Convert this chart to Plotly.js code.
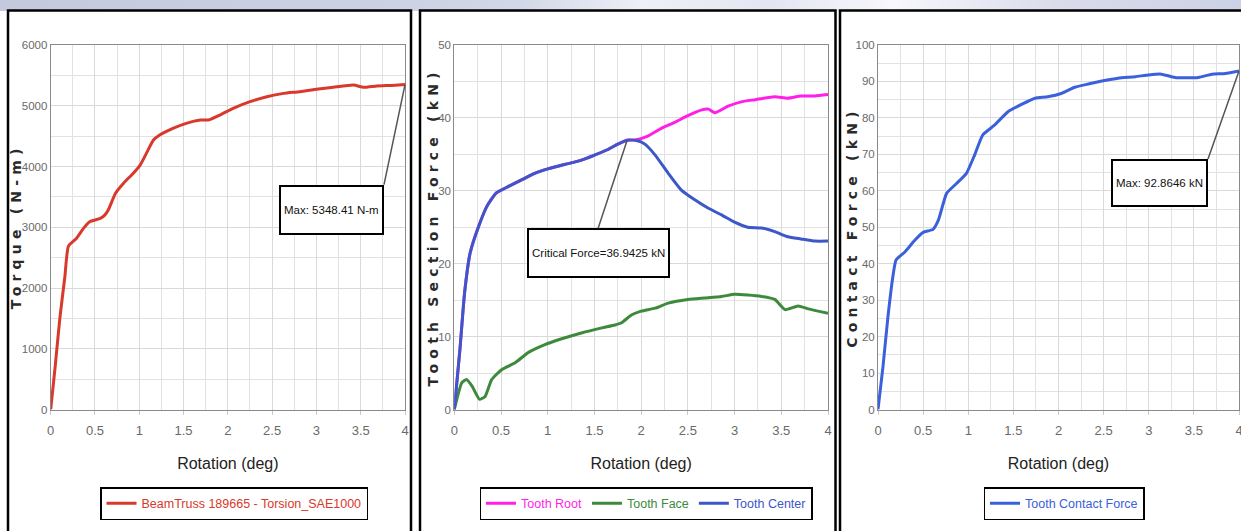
<!DOCTYPE html>
<html><head><meta charset="utf-8">
<script src="https://cdn.plot.ly/plotly-3.0.1.min.js"></script>
<style>
html,body{margin:0;padding:0;background:#fff;}
#wrap{position:relative;width:1241px;height:531px;overflow:hidden;background:#fff;}
#strip{position:absolute;left:0;top:0;width:1241px;height:11px;background:linear-gradient(90deg,#c4c9de 0%,#cbd0e3 30%,#d3d8e8 42%,#eef0f7 52%,#e3e5f1 62%,#f7f7fc 72%,#dadcec 85%,#cdd1e5 100%);}
#chart{position:absolute;left:0;top:0;}
g.annotation[data-index="3"] text,
g.annotation[data-index="4"] text,
g.annotation[data-index="5"] text{letter-spacing:5.2px;}
</style></head>
<body>
<div id="wrap"><div id="strip"></div><div id="chart"></div></div>
<script>
// ---------- data ----------
const rotTorque = [0, 0.05, 0.105, 0.16, 0.2, 0.29, 0.37, 0.44, 0.56, 0.61, 0.65, 0.73, 0.82, 0.93, 1.01, 1.08, 1.16, 1.23, 1.38, 1.53, 1.69, 1.78, 1.91, 2.06, 2.25, 2.44, 2.63, 2.81, 3.0, 3.19, 3.42, 3.53, 3.68, 3.85, 4.0];
const torque    = [0, 700, 1526, 2185, 2690, 2816, 2981, 3090, 3145, 3200, 3283, 3557, 3722, 3886, 4024, 4216, 4435, 4518, 4627, 4710, 4765, 4765, 4847, 4957, 5067, 5149, 5204, 5231, 5270, 5303, 5341, 5303, 5325, 5335, 5348.41];

const rotCenter   = [0, 0.06, 0.11, 0.17, 0.26, 0.35, 0.45, 0.58, 0.72, 0.86, 1.0, 1.18, 1.36, 1.5, 1.65, 1.75, 1.85, 1.95, 2.04, 2.15, 2.29, 2.43, 2.57, 2.72, 2.86, 3.0, 3.14, 3.29, 3.43, 3.57, 3.71, 3.86, 4.0];
const toothCenter = [0, 8.2, 16, 21.5, 25.1, 27.9, 29.7, 30.6, 31.5, 32.4, 33.0, 33.6, 34.2, 34.9, 35.7, 36.4, 36.94, 36.9, 36.4, 34.9, 32.4, 30.1, 28.8, 27.6, 26.7, 25.7, 25.0, 24.9, 24.4, 23.7, 23.4, 23.1, 23.1];

const rotRoot   = [0, 0.06, 0.11, 0.17, 0.26, 0.35, 0.45, 0.58, 0.72, 0.86, 1.0, 1.18, 1.36, 1.5, 1.65, 1.75, 1.85, 1.95, 2.07, 2.22, 2.36, 2.5, 2.65, 2.72, 2.79, 2.93, 3.07, 3.22, 3.43, 3.57, 3.71, 3.86, 4.0];
const toothRoot = [0, 8.2, 16, 21.5, 25.1, 27.9, 29.7, 30.6, 31.5, 32.4, 33.0, 33.6, 34.2, 34.9, 35.7, 36.4, 36.94, 37.0, 37.5, 38.6, 39.4, 40.3, 41.1, 41.2, 40.7, 41.6, 42.2, 42.5, 42.9, 42.7, 43.0, 43.0, 43.2];

const rotFace   = [0, 0.08, 0.13, 0.19, 0.27, 0.33, 0.4, 0.51, 0.65, 0.79, 0.97, 1.15, 1.36, 1.58, 1.72, 1.79, 1.9, 2.0, 2.15, 2.29, 2.5, 2.68, 2.86, 3.0, 3.14, 3.29, 3.43, 3.54, 3.68, 3.79, 4.0];
const toothFace = [0, 3.65, 4.1, 3.2, 1.4, 1.8, 4.1, 5.5, 6.4, 7.8, 8.9, 9.7, 10.5, 11.2, 11.6, 11.9, 13.0, 13.5, 13.9, 14.6, 15.1, 15.3, 15.5, 15.8, 15.7, 15.5, 15.1, 13.7, 14.2, 13.8, 13.2];

const rotContact = [0, 0.055, 0.11, 0.17, 0.2, 0.3, 0.41, 0.5, 0.61, 0.67, 0.76, 0.87, 0.98, 1.07, 1.16, 1.29, 1.44, 1.59, 1.74, 1.88, 2.03, 2.18, 2.33, 2.48, 2.66, 2.85, 3.0, 3.14, 3.29, 3.55, 3.7, 3.85, 4.0];
const contact    = [0, 11.7, 25.4, 37.3, 41, 43.3, 46.5, 48.6, 49.4, 52, 59.3, 62, 64.8, 69.8, 75.3, 78, 81.7, 83.7, 85.4, 85.8, 86.7, 88.4, 89.3, 90.1, 90.9, 91.3, 91.8, 92.0, 91.1, 91.1, 92.0, 92.2, 92.8646];

const xTitle = 'Rotation (deg)';
const yTitles = ['Torque (N-m)', 'Tooth Section Force (kN)', 'Contact Force (kN)'];
const seriesNames = ['BeamTruss 189665 - Torsion_SAE1000', 'Tooth Root', 'Tooth Face', 'Tooth Center', 'Tooth Contact Force'];
const notes = ['Max: 5348.41 N-m', 'Critical Force=36.9425 kN', 'Max: 92.8646 kN'];

// ---------- styling ----------
const W = 1241, H = 531;
const px = v => v / W;
const py = v => 1 - v / H;
const SANS = '"Liberation Sans", Arial, sans-serif';
const RED = '#d8392b', MAG = '#ff1fe6', GRN = '#3d8a3d', BLU = '#3c58c8', BLU3 = '#3a60dc';

function xax(dom, anchor) {
  return {
    domain: dom, anchor: anchor, range: [0, 4], dtick: 0.5, tick0: 0, fixedrange: true,
    showgrid: true, gridcolor: '#d9d9d9', gridwidth: 1,
    minor: {dtick: 0.25, showgrid: true, gridcolor: '#e2e2e2', gridwidth: 1},
    showline: true, linecolor: '#8a8a8a', linewidth: 1, mirror: true,
    ticks: 'outside', ticklen: 4, tickcolor: '#c8c8c8', ticklabelstandoff: 5,
    ticklabeloverflow: 'allow',
    tickfont: {family: SANS, size: 13, color: '#6a6a6a'},
    zeroline: false,
    title: {text: xTitle, font: {family: SANS, size: 16, color: '#222'}, standoff: 20}
  };
}
function yax(dom, anchor, max, dt) {
  return {
    domain: dom, anchor: anchor, range: [0, max], dtick: dt, tick0: 0, fixedrange: true,
    showgrid: true, gridcolor: '#d9d9d9', gridwidth: 1,
    minor: {dtick: dt / 2, showgrid: true, gridcolor: '#e2e2e2', gridwidth: 1},
    showline: true, linecolor: '#8a8a8a', linewidth: 1, mirror: true,
    ticks: '', ticklabeloverflow: 'allow',
    tickfont: {family: SANS, size: 11.5, color: '#6a6a6a'},
    zeroline: false
  };
}

const yDom = [py(409.5), py(45)];
const sp = {shape: 'spline', smoothing: 0.5, width: 3};
const traces = [
  {x: rotTorque, y: torque, name: seriesNames[0], mode: 'lines', line: Object.assign({color: RED}, sp), xaxis: 'x', yaxis: 'y', legend: 'legend'},
  {x: rotRoot, y: toothRoot, name: '<span style="color:' + MAG + '">' + seriesNames[1] + '</span>', mode: 'lines', line: Object.assign({color: MAG}, sp), xaxis: 'x2', yaxis: 'y2', legend: 'legend2'},
  {x: rotFace, y: toothFace, name: '<span style="color:' + GRN + '">' + seriesNames[2] + '</span>', mode: 'lines', line: Object.assign({color: GRN}, sp), xaxis: 'x2', yaxis: 'y2', legend: 'legend2'},
  {x: rotCenter, y: toothCenter, name: '<span style="color:' + BLU + '">' + seriesNames[3] + '</span>', mode: 'lines', line: Object.assign({color: BLU}, sp), xaxis: 'x2', yaxis: 'y2', legend: 'legend2'},
  {x: rotContact, y: contact, name: seriesNames[4], mode: 'lines', line: Object.assign({color: BLU3}, sp), xaxis: 'x3', yaxis: 'y3', legend: 'legend3'}
];

function frame(x0, x1) {
  return {type: 'rect', xref: 'paper', yref: 'paper', x0: px(x0), x1: px(x1), y0: py(545), y1: py(10.5),
    line: {color: '#000', width: 2.5}, fillcolor: '#fff', layer: 'below'};
}
function leg(xc, color) {
  return {x: px(xc), y: py(487), xanchor: 'center', yanchor: 'top', xref: 'paper', yref: 'paper',
    orientation: 'h', bgcolor: '#fff', bordercolor: '#000', borderwidth: 1.5,
    font: {family: SANS, size: 12.5, color: color}, itemwidth: 30, tracegroupgap: 0};
}
function note(text, xr, yr, xv, yv, ax, ay, xanchor, h) {
  return {text: text, xref: xr, yref: yr, x: xv, y: yv, ax: ax, ay: ay, showarrow: true,
    arrowhead: 0, arrowwidth: 1.5, arrowcolor: '#555', xanchor: xanchor, yanchor: 'top',
    bgcolor: '#fff', bordercolor: '#000', borderwidth: 2, borderpad: 3, height: h,
    font: {family: SANS, size: 11.5, color: '#111'}};
}
function ytitle(text, xc) {
  return {text: text, xref: 'paper', yref: 'paper', x: px(xc), y: py(227), showarrow: false,
    textangle: -90, xanchor: 'center', yanchor: 'middle',
    font: {family: '"DejaVu Sans", sans-serif', size: 14, color: '#2a2a2a', weight: 'bold'}};
}

const layout = {
  width: W, height: H, margin: {l: 0, r: 0, t: 0, b: 0},
  paper_bgcolor: 'rgba(0,0,0,0)', plot_bgcolor: '#fff',
  showlegend: true,
  xaxis: xax([px(50.7), px(405)], 'y'), yaxis: yax(yDom, 'x', 6000, 1000),
  xaxis2: xax([px(454.3), px(828)], 'y2'), yaxis2: yax(yDom, 'x2', 50, 10),
  xaxis3: xax([px(878), px(1239)], 'y3'), yaxis3: yax(yDom, 'x3', 100, 10),
  legend: leg(234, RED), legend2: leg(646, '#333'), legend3: leg(1064, BLU3),
  shapes: [frame(8, 411), frame(420, 835.5), frame(840, 1250)],
  annotations: [
    note(notes[0], 'x', 'y', 4, 5348.41, -21, 100, 'right', 40),
    note(notes[1], 'x2', 'y2', 1.85, 36.9425, -29, 88, 'center', 40),
    note(notes[2], 'x3', 'y3', 4, 92.8646, -31, 88, 'right', 38),
    ytitle(yTitles[0], 16),
    ytitle(yTitles[1], 433),
    ytitle(yTitles[2], 852)
  ]
};

Plotly.newPlot('chart', traces, layout, {displayModeBar: false, staticPlot: true});
</script>
</body></html>
